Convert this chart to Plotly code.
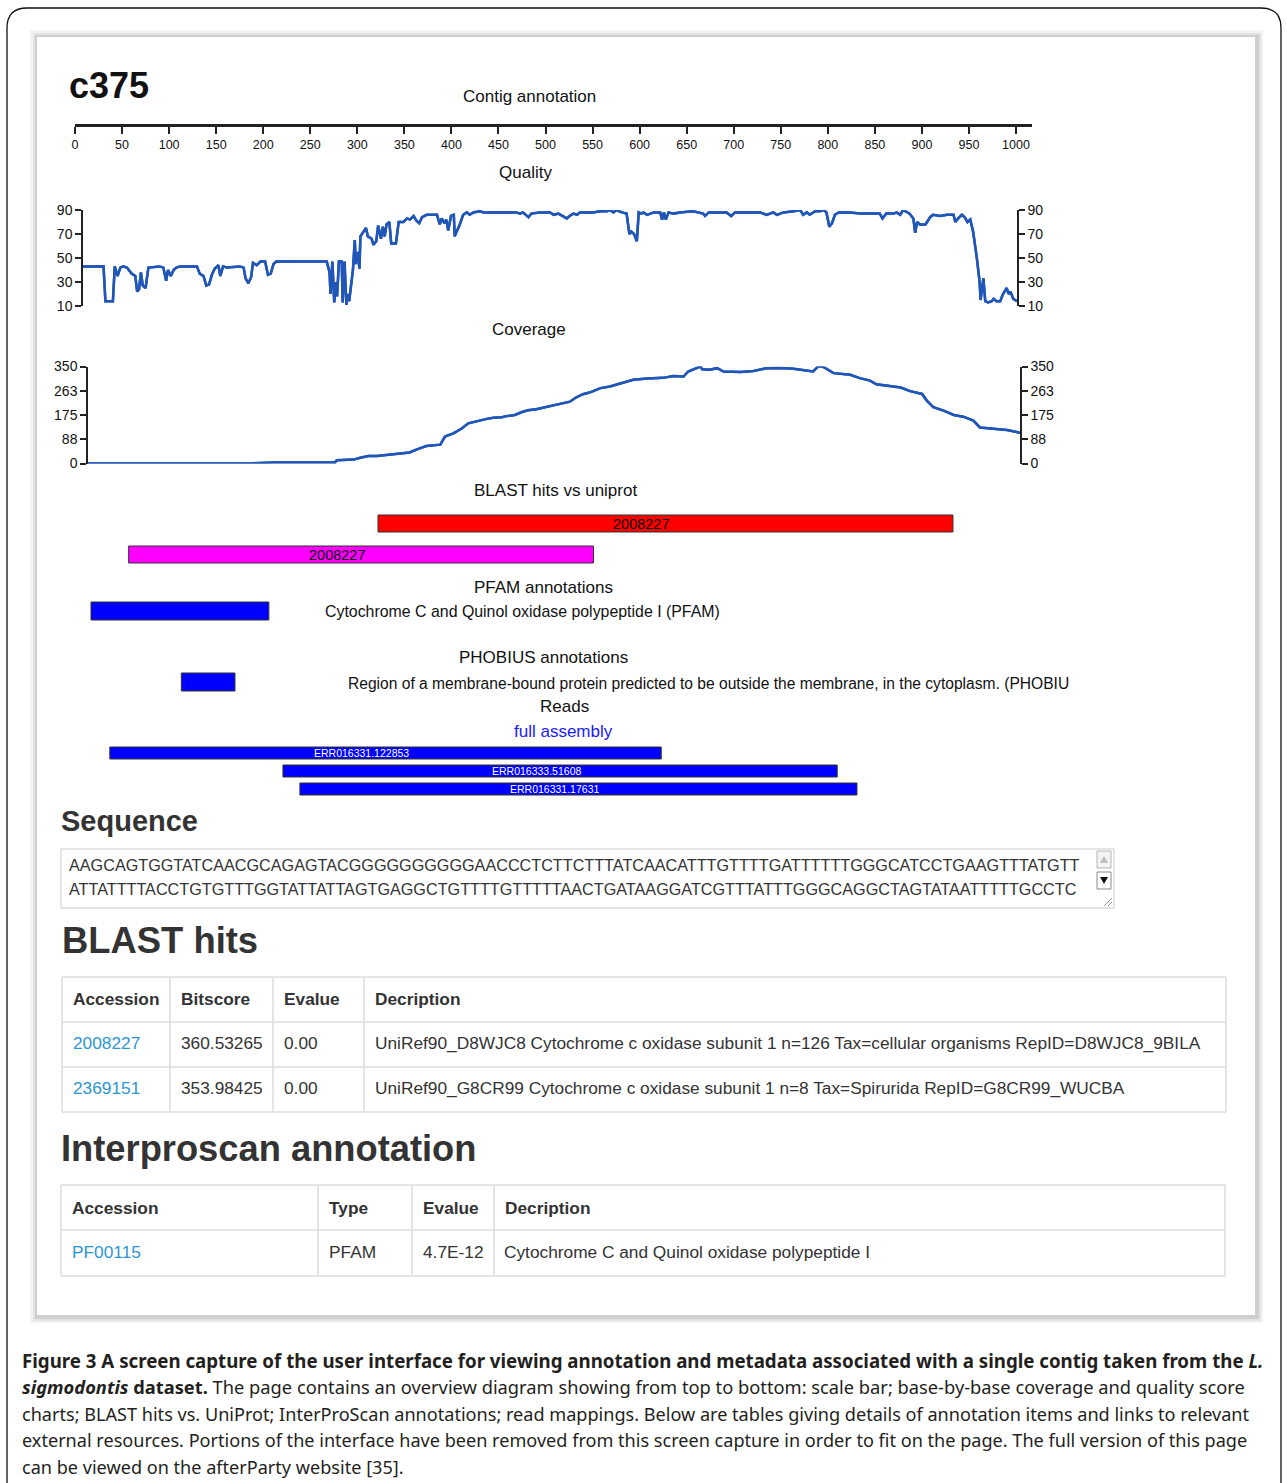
import plotly.graph_objects as go

W, H = 1287, 1483

# ---------------- data ----------------
contig_name = "c375"
scale_ticks = list(range(0, 1001, 50))

quality_pos = [0, 22, 24, 32, 34, 37, 40, 43, 47, 52, 56, 58, 60, 62, 64, 67, 70, 82, 86, 89, 91, 94, 97, 100, 104,
               122, 125, 129, 132, 135, 138, 141, 145, 147, 150, 154, 168, 172, 174, 177, 180, 182, 186, 190, 195,
               198, 201, 204, 207, 261, 264, 265, 267, 269, 271, 272, 274, 277, 278, 280, 282, 283, 285, 287, 289,
               291, 292, 294, 296, 297, 300, 303, 305, 309, 311, 314, 316, 319, 321, 323, 325, 328, 330, 335, 338,
               343, 347, 350, 354, 357, 360, 363, 368, 379, 382, 384, 387, 389, 391, 394, 397, 398, 400, 403, 407,
               411, 414, 418, 425, 429, 464, 468, 471, 477, 480, 489, 500, 504, 509, 514, 518, 521, 525, 529, 532,
               546, 554, 561, 564, 568, 571, 577, 582, 585, 587, 590, 593, 595, 598, 600, 604, 611, 618, 620, 622,
               624, 627, 632, 639, 653, 664, 666, 670, 689, 694, 698, 711, 725, 732, 739, 743, 750, 761, 768, 771,
               775, 778, 784, 789, 793, 796, 799, 802, 805, 809, 821, 832, 853, 856, 860, 868, 871, 875, 878, 885,
               889, 891, 893, 896, 902, 907, 910, 918, 925, 932, 934, 937, 941, 944, 947, 950, 953, 957, 960, 961,
               964, 966, 969, 973, 975, 978, 982, 985, 989, 991, 993, 996, 1000]
quality_val = [43, 43, 14, 14, 43, 35, 42, 43, 42, 37, 35, 22, 24, 38, 27, 25, 42, 43, 42, 31, 40, 35, 40, 42, 43,
               43, 37, 35, 27, 28, 36, 41, 44, 35, 43, 42, 43, 42, 33, 29, 34, 46, 44, 47, 47,
               36, 37, 45, 47, 47, 38, 20, 47, 13, 30, 18, 47, 47, 13, 47, 11, 20, 14, 30, 40,
               65, 45, 55, 41, 68, 72, 75, 68, 66, 61, 64, 77, 66, 76, 68, 78, 80, 62, 62, 80,
               80, 83, 82, 85, 81, 79, 84, 86, 86, 78, 83, 79, 82, 73, 85, 86, 68, 72, 77, 86,
               88, 86, 88, 89, 88, 88, 87, 88, 84, 87, 88, 88, 86, 87, 85, 83, 85, 87, 86, 88,
               88, 89, 89, 90, 88, 90, 88, 87, 70, 72, 70, 64, 88, 87, 88, 86, 88, 88, 82, 88,
               82, 88, 87, 88, 89, 87, 85, 88, 88, 85, 88, 88, 88, 86, 88, 86, 88, 89, 90, 86,
               88, 86, 89, 89, 90, 88, 76, 79, 86, 88, 88, 87, 87, 83, 87, 87, 88, 86, 90, 87,
               83, 71, 80, 78, 78, 84, 86, 85, 86, 86, 80, 83, 86, 84, 80, 82, 72, 50, 30, 15,
               33, 14, 13, 14, 16, 14, 14, 20, 25, 20, 22, 16, 14]
quality_ticks = [10, 30, 50, 70, 90]

coverage_pos = [0, 177, 199, 265, 267, 285, 292, 301, 310, 320, 335, 345, 353, 363, 378, 379, 383, 392, 401, 408,
                417, 428, 435, 444, 449, 458, 465, 472, 481, 492, 501, 506, 517, 524, 531, 538, 550, 560, 574, 585,
                600, 617, 628, 639, 644, 653, 657, 659, 667, 675, 682, 700, 714, 728, 742, 757, 771, 778, 784, 789,
                800, 818, 828, 839, 846, 861, 872, 882, 895, 900, 907, 918, 929, 939, 950, 957, 972, 986, 1000]
coverage_val = [0, 1, 4, 4, 12, 14, 21, 27, 27, 31, 35, 40, 51, 63, 68, 75, 97, 109, 126, 145,
                153, 161, 165, 167, 171, 175, 185, 192, 196, 205, 211, 214, 223, 239, 250, 256, 272, 278, 293, 302,
                307, 309, 316, 314, 332, 344, 350, 340, 338, 344, 332, 330, 334, 344, 345, 342, 334, 332, 352, 348,
                326, 320, 308, 299, 286, 278, 274, 261, 251, 227, 203, 191, 175, 169, 155, 130, 124, 121, 111]
coverage_ticks = [0, 88, 175, 263, 350]

blast_ids = ["2008227", "2008227"]
blast_start = [322, 57]
blast_end = [933, 551]
blast_colors = ["#ff0000", "#ff00ff"]

pfam_start = [17]
pfam_end = [206]
pfam_desc = "Cytochrome C and Quinol oxidase polypeptide I (PFAM)"

phobius_start = [113]
phobius_end = [170]
phobius_desc = "Region of a membrane-bound protein predicted to be outside the membrane, in the cytoplasm. (PHOBIU"

read_ids = ["ERR016331.122853", "ERR016333.51608", "ERR016331.17631"]
read_start = [37, 221, 239]
read_end = [623, 810, 831]

sequence_lines = [
    "AAGCAGTGGTATCAACGCAGAGTACGGGGGGGGGGAACCCTCTTCTTTATCAACATTTGTTTTGATTTTTTGGGCATCCTGAAGTTTATGTT",
    "ATTATTTTACCTGTGTTTGGTATTATTAGTGAGGCTGTTTTGTTTTTAACTGATAAGGATCGTTTATTTGGGCAGGCTAGTATAATTTTTGCCTC",
]

blast_header = ["Accession", "Bitscore", "Evalue", "Decription"]
blast_acc = ["2008227", "2369151"]
blast_bits = ["360.53265", "353.98425"]
blast_eval = ["0.00", "0.00"]
blast_desc = ["UniRef90_D8WJC8 Cytochrome c oxidase subunit 1 n=126 Tax=cellular organisms RepID=D8WJC8_9BILA",
              "UniRef90_G8CR99 Cytochrome c oxidase subunit 1 n=8 Tax=Spirurida RepID=G8CR99_WUCBA"]

ipr_header = ["Accession", "Type", "Evalue", "Decription"]
ipr_acc = ["PF00115"]
ipr_type = ["PFAM"]
ipr_eval = ["4.7E-12"]
ipr_desc = ["Cytochrome C and Quinol oxidase polypeptide I"]

caption_lines = [
    "<b>Figure 3 A screen capture of the user interface for viewing annotation and metadata associated with a single contig taken from the <i>L.</i></b>",
    "<b><i>sigmodontis</i> dataset.</b> The page contains an overview diagram showing from top to bottom: scale bar; base-by-base coverage and quality score",
    "charts; BLAST hits vs. UniProt; InterProScan annotations; read mappings. Below are tables giving details of annotation items and links to relevant",
    "external resources. Portions of the interface have been removed from this screen capture in order to fit on the page. The full version of this page",
    "can be viewed on the afterParty website [35].",
]
caption_sizes = [18.7, 18.3, 18.1, 18.1, 18.1]

# ---------------- helpers ----------------
def X(px):
    return px / W


def Y(py):
    return 1 - py / H


SVGF = "Liberation Sans, Arial, sans-serif"
HTMLF = "Liberation Sans, Arial, sans-serif"
CAPF = "Noto Sans, Open Sans, sans-serif"
LINE = "#1f56b8"
TXT = "#333333"
LINK = "#2b95d6"

fig = go.Figure()
shapes = []
ann = []


def rect(x0, y0, x1, y1, fill=None, line=None, lw=1, layer="below"):
    shapes.append(dict(type="rect", xref="paper", yref="paper", x0=X(x0), x1=X(x1), y0=Y(y1), y1=Y(y0),
                       fillcolor=fill if fill else "rgba(0,0,0,0)",
                       line=dict(color=line if line else "rgba(0,0,0,0)", width=lw if line else 0),
                       layer=layer))


def hline(x0, x1, y, color, lw=1):
    shapes.append(dict(type="line", xref="paper", yref="paper", x0=X(x0), x1=X(x1), y0=Y(y), y1=Y(y),
                       line=dict(color=color, width=lw), layer="below"))


def vline(x, y0, y1, color, lw=1):
    shapes.append(dict(type="line", xref="paper", yref="paper", x0=X(x), x1=X(x), y0=Y(y0), y1=Y(y1),
                       line=dict(color=color, width=lw), layer="below"))


def text(x, y, s, size, color="#000", family=SVGF, anchor="left"):
    if anchor == "left":
        x = x - 2
    ann.append(dict(xref="paper", yref="paper", x=X(x), y=Y(y), text=s, showarrow=False,
                    xanchor=anchor, yanchor="middle", font=dict(size=size, color=color, family=family)))


# ---------------- page frame ----------------
fr = 20
path = (f"M {X(7)},{Y(1483)} L {X(7)},{Y(8 + fr)} Q {X(7)},{Y(8)} {X(7 + fr)},{Y(8)} "
        f"L {X(1281 - fr)},{Y(8)} Q {X(1281)},{Y(8)} {X(1281)},{Y(8 + fr)} L {X(1281)},{Y(1483)}")
shapes.append(dict(type="path", xref="paper", yref="paper", path=path, line=dict(color="#111", width=1.3),
                   layer="below"))
# panel with shadow
rect(30, 30, 1263, 1323, fill="#f3f3f3")
rect(33, 33, 1261, 1321, fill="#e2e2e2")
rect(35, 35, 1259, 1319, fill="#cfcfcf")
rect(37, 37, 1255, 1315, fill="#ffffff")

# ---------------- diagram titles ----------------
text(69, 86, "<b>c375</b>", 36, "#111")
text(529, 96, "Contig annotation", 17, "#111", anchor="center")
text(525, 172, "Quality", 17, "#111", anchor="center")
text(529, 330, "Coverage", 17, "#111", anchor="center")
text(555, 491, "BLAST hits vs uniprot", 17, "#111", anchor="center")
text(543, 587, "PFAM annotations", 17, "#111", anchor="center")
text(522, 612, pfam_desc, 15.9, "#111", anchor="center")
text(543, 657, "PHOBIUS annotations", 17, "#111", anchor="center")
text(348, 683, phobius_desc, 15.6, "#111")
text(564, 706, "Reads", 17, "#111", anchor="center")
text(563, 731, "full assembly", 17, "#1a1aff", anchor="center")

# ---------------- traces ----------------
fig.add_trace(go.Scatter(x=quality_pos, y=quality_val, mode="lines", line=dict(color=LINE, width=2.5),
                         xaxis="x2", yaxis="y2", showlegend=False, hoverinfo="skip"))
fig.add_trace(go.Scatter(x=quality_pos, y=quality_val, mode="lines", line=dict(color=LINE, width=2.5),
                         xaxis="x2", yaxis="y3", showlegend=False, hoverinfo="skip"))
fig.add_trace(go.Scatter(x=coverage_pos, y=coverage_val, mode="lines", line=dict(color=LINE, width=2.5),
                         xaxis="x3", yaxis="y4", showlegend=False, hoverinfo="skip"))
fig.add_trace(go.Scatter(x=coverage_pos, y=coverage_val, mode="lines", line=dict(color=LINE, width=2.5),
                         xaxis="x3", yaxis="y5", showlegend=False, hoverinfo="skip"))
# invisible trace for scale bar axis
fig.add_trace(go.Scatter(x=[0, 1000], y=[0, 0], mode="markers", marker=dict(opacity=0), xaxis="x", yaxis="y",
                         showlegend=False, hoverinfo="skip"))

# bar tracks (y axis y6 in row units)
tracks = []
for i in range(len(blast_ids)):
    tracks.append((blast_start[i], blast_end[i], [523.5, 554.5][i], 17, blast_colors[i], blast_ids[i], "#000", 14.5))
tracks.append((pfam_start[0], pfam_end[0], 611, 18, "#0000ff", "", "#fff", 11))
tracks.append((phobius_start[0], phobius_end[0], 682, 18, "#0000ff", "", "#fff", 11))
for i in range(len(read_ids)):
    tracks.append((read_start[i], read_end[i], [753, 771, 789][i], 12, "#0000ff", read_ids[i], "#fff", 10.5))

for (s, e, row, h, col, lab, tcol, tsz) in tracks:
    fig.add_trace(go.Bar(x=[e - s], base=[s], y=[row], width=[h], orientation="h", xaxis="x", yaxis="y6",
                         marker=dict(color=col, line=dict(color="#333", width=1)), showlegend=False,
                         hoverinfo="skip"))
    if lab:
        ann.append(dict(xref="x", yref="y6", x=(s + e) / 2, y=row, text=lab, showarrow=False, xshift=-24,
                        xanchor="center", yanchor="middle", font=dict(size=tsz, color=tcol, family=SVGF)))

# ---------------- sequence section ----------------
text(61, 821, "<b>Sequence</b>", 29, TXT, HTMLF)
rect(61, 849, 1114, 908, fill="#ffffff", line="#cccccc", lw=1)
for i, ln in enumerate(sequence_lines):
    text(69, 865 + 24 * i, ln, 16.2, TXT, HTMLF)
# scrollbar
rect(1097, 851, 1111, 868, fill="#f2f2f2", line="#b5b5b5", lw=1)
shapes.append(dict(type="path", xref="paper", yref="paper",
                   path=f"M {X(1100)},{Y(863)} L {X(1104)},{Y(856)} L {X(1108)},{Y(863)} Z",
                   fillcolor="#bdbdbd", line=dict(width=0), layer="below"))
rect(1097, 872, 1111, 889, fill="#ffffff", line="#8a8a8a", lw=1)
shapes.append(dict(type="path", xref="paper", yref="paper",
                   path=f"M {X(1100)},{Y(877)} L {X(1108)},{Y(877)} L {X(1104)},{Y(884)} Z",
                   fillcolor="#111", line=dict(width=0), layer="below"))
for d in (0, 4):
    shapes.append(dict(type="line", xref="paper", yref="paper", x0=X(1104 + d), y0=Y(906), x1=X(1112), y1=Y(898 + d),
                       line=dict(color="#999", width=1), layer="below"))

# ---------------- BLAST hits table ----------------
FS = 17.3
text(62, 940, "<b>BLAST hits</b>", 36.4, TXT, HTMLF)
cols1 = [62, 170, 273, 364, 1226]
rows1 = [977, 1022, 1067, 1112]
for y in rows1:
    hline(cols1[0], cols1[-1], y, "#dddddd", 1.5)
for x in cols1:
    vline(x, rows1[0], rows1[-1], "#dddddd", 1.5)
for j, hd in enumerate(blast_header):
    text(cols1[j] + 11, 999, f"<b>{hd}</b>", FS, TXT, HTMLF)
for i in range(len(blast_acc)):
    yc = 1043 + 45 * i
    text(cols1[0] + 11, yc, blast_acc[i], FS, LINK, HTMLF)
    text(cols1[1] + 11, yc, blast_bits[i], FS, TXT, HTMLF)
    text(cols1[2] + 11, yc, blast_eval[i], FS, TXT, HTMLF)
    text(cols1[3] + 11, yc, blast_desc[i], FS, TXT, HTMLF)

# ---------------- Interproscan table ----------------
text(61, 1148, "<b>Interproscan annotation</b>", 36.3, TXT, HTMLF)
cols2 = [61, 318, 412, 494, 1225]
rows2 = [1185, 1230, 1276]
for y in rows2:
    hline(cols2[0], cols2[-1], y, "#dddddd", 1.5)
for x in cols2:
    vline(x, rows2[0], rows2[-1], "#dddddd", 1.5)
for j, hd in enumerate(ipr_header):
    text(cols2[j] + 11, 1208, f"<b>{hd}</b>", FS, TXT, HTMLF)
for i in range(len(ipr_acc)):
    yc = 1252 + 45 * i
    text(cols2[0] + 11, yc, ipr_acc[i], FS, LINK, HTMLF)
    text(cols2[1] + 11, yc, ipr_type[i], FS, TXT, HTMLF)
    text(cols2[2] + 11, yc, ipr_eval[i], FS, TXT, HTMLF)
    text(cols2[3] + 10, yc, ipr_desc[i], FS, TXT, HTMLF)

# ---------------- caption ----------------
for i, ln in enumerate(caption_lines):
    text(22, 1360 + 26.8 * i, ln, caption_sizes[i], "#231f20", CAPF)

# ---------------- layout ----------------
ax_common = dict(showgrid=False, zeroline=False, color="#111", linecolor="#222", tickcolor="#222",
                 automargin=False)
fig.update_layout(
    width=W, height=H, autosize=False,
    margin=dict(l=0, r=0, t=0, b=0, pad=0, autoexpand=False),
    paper_bgcolor="#ffffff", plot_bgcolor="rgba(0,0,0,0)",
    showlegend=False, barmode="overlay",
    shapes=shapes, annotations=ann,
    xaxis=dict(domain=[X(75), X(1032)], range=[0, 1017], anchor="y", showline=True, linewidth=3,
               ticks="outside", ticklen=7, tickwidth=1.5, tickvals=scale_ticks,
               tickfont=dict(size=12.5, family=SVGF, color="#111"), fixedrange=True, **ax_common),
    yaxis=dict(domain=[Y(124), Y(122)], visible=False, range=[-1, 1], fixedrange=True, automargin=False),
    xaxis2=dict(domain=[X(83), X(1017)], range=[0, 1000], anchor="y2", visible=False, automargin=False),
    yaxis2=dict(domain=[Y(306), Y(210)], range=[10, 90], anchor="x2", side="left", showline=True, linewidth=1.5,
                ticks="outside", ticklen=6, tickwidth=1.5, tickvals=quality_ticks,
                tickfont=dict(size=14, family=SVGF, color="#111"), **ax_common),
    yaxis3=dict(domain=[Y(306), Y(210)], range=[10, 90], anchor="x2", overlaying="y2", side="right",
                showline=True, linewidth=1.5, ticks="outside", ticklen=6, tickwidth=1.5, tickvals=quality_ticks,
                tickfont=dict(size=14, family=SVGF, color="#111"), **ax_common),
    xaxis3=dict(domain=[X(88), X(1020)], range=[0, 1000], anchor="y4", visible=False, automargin=False),
    yaxis4=dict(domain=[Y(463.5), Y(366.5)], range=[0, 350], anchor="x3", side="left", showline=True,
                linewidth=1.5, ticks="outside", ticklen=6, tickwidth=1.5, tickvals=coverage_ticks,
                tickfont=dict(size=14, family=SVGF, color="#111"), **ax_common),
    yaxis5=dict(domain=[Y(463.5), Y(366.5)], range=[0, 350], anchor="x3", overlaying="y4", side="right",
                showline=True, linewidth=1.5, ticks="outside", ticklen=6, tickwidth=1.5, tickvals=coverage_ticks,
                tickfont=dict(size=14, family=SVGF, color="#111"), **ax_common),
    yaxis6=dict(domain=[Y(800), Y(505)], range=[800, 505], anchor="x", visible=False, automargin=False),
)

fig.write_html("out.html", config={"displayModeBar": False},
               post_script="document.body.style.margin='0';document.body.style.padding='0';"
                           "document.documentElement.style.overflow='hidden';")
